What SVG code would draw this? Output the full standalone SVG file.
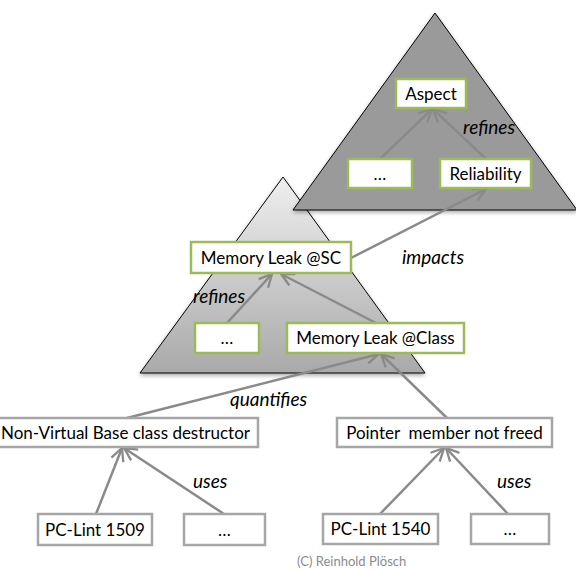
<svg xmlns="http://www.w3.org/2000/svg" width="576" height="570" viewBox="0 0 576 570">
<style>
.tri{stroke:#000;stroke-width:1}
.g rect{fill:#fff;stroke:#9bbb59;stroke-width:2.5}
.w rect{fill:#fff;stroke:#a6a6a6;stroke-width:2.5}
text{font-family:Lato,"Open Sans","Liberation Sans",sans-serif;font-size:17px;fill:#000}
.lbl{font-style:italic;font-size:19px}
.cp{font-size:13px;fill:#8c8c8c}
#connectors line{stroke:#8a8a8a;stroke-width:2.5;marker-end:url(#arr)}
</style>
<defs>
<linearGradient id="lg" x1="0" y1="0" x2="0" y2="1">
<stop offset="0" stop-color="#efefef"/>
<stop offset="1" stop-color="#a9a9a9"/>
</linearGradient>
<filter id="sh" x="-10%" y="-10%" width="120%" height="130%">
<feGaussianBlur in="SourceAlpha" stdDeviation="2"/>
<feOffset dy="2" result="b"/>
<feComponentTransfer><feFuncA type="linear" slope="0.35"/></feComponentTransfer>
<feMerge><feMergeNode/><feMergeNode in="SourceGraphic"/></feMerge>
</filter>
<marker id="arr" viewBox="0 0 14 14" refX="12.5" refY="7" markerWidth="6.5" markerHeight="6.5" orient="auto" markerUnits="strokeWidth">
<path d="M1.5,1.5 L12.5,7 L1.5,12.5" fill="none" stroke="#8a8a8a" stroke-width="2"/>
</marker>
</defs>
<g id="triangles">
<polygon class="tri" points="283,177 140,373 425,373" fill="url(#lg)" filter="url(#sh)"/>
<polygon class="tri" points="435,13 293,210 577,210" fill="#9a9a9a" filter="url(#sh)"/>
</g>
<g id="connectors">
<line x1="380" y1="159" x2="432" y2="109"/>
<line x1="486" y1="159" x2="433" y2="109"/>
<line x1="351" y1="258" x2="486" y2="189"/>
<line x1="227" y1="323" x2="272" y2="274"/>
<line x1="376" y1="323" x2="281" y2="274"/>
<line x1="127" y1="418" x2="379" y2="354"/>
<line x1="447" y1="418" x2="381" y2="354"/>
<line x1="96" y1="514" x2="122" y2="448"/>
<line x1="224" y1="514" x2="124" y2="448"/>
<line x1="380" y1="514" x2="444" y2="448"/>
<line x1="508" y1="514" x2="446" y2="448"/>
</g>
<g id="aspect" class="g"><rect x="396" y="79" width="70" height="29"/><text x="431" y="99.5" text-anchor="middle">Aspect</text></g>
<g id="dots1" class="g"><rect x="348" y="159" width="64" height="29"/><text x="380" y="179.5" text-anchor="middle">…</text></g>
<g id="reliability" class="g"><rect x="440" y="159" width="91" height="29"/><text x="485.5" y="179.5" text-anchor="middle">Reliability</text></g>
<g id="sc" class="g"><rect x="191" y="242" width="160" height="31"/><text x="271" y="263.5" text-anchor="middle">Memory Leak @SC</text></g>
<g id="dots2" class="g"><rect x="195" y="323" width="64" height="30"/><text x="227" y="344" text-anchor="middle">…</text></g>
<g id="cls" class="g"><rect x="287" y="323" width="177" height="30"/><text x="375.5" y="344" text-anchor="middle">Memory Leak @Class</text></g>
<g id="nv" class="w"><rect x="-4" y="418" width="262" height="29"/><text x="250" y="438.5" text-anchor="end">Non-Virtual Base class destructor</text></g>
<g id="pointer" class="w"><rect x="337" y="418" width="215" height="29"/><text x="444.5" y="438.5" text-anchor="middle">Pointer &#160;member not freed</text></g>
<g id="pclint1509" class="w"><rect x="38" y="514" width="114" height="31"/><text x="95" y="535.5" text-anchor="middle">PC-Lint 1509</text></g>
<g id="dots3" class="w"><rect x="184" y="514" width="81" height="31"/><text x="224.5" y="535.5" text-anchor="middle">…</text></g>
<g id="pclint1540" class="w"><rect x="323" y="514" width="115" height="30"/><text x="380.5" y="535" text-anchor="middle">PC-Lint 1540</text></g>
<g id="dots4" class="w"><rect x="471" y="514" width="78" height="30"/><text x="510" y="535" text-anchor="middle">…</text></g>
<g id="labels">
<text class="lbl" x="463" y="134">refines</text>
<text class="lbl" x="402" y="264">impacts</text>
<text class="lbl" x="193" y="303">refines</text>
<text class="lbl" x="230" y="406">quantifies</text>
<text class="lbl" x="193" y="488">uses</text>
<text class="lbl" x="497" y="488">uses</text>
<text class="cp" x="297" y="566">(C) Reinhold Plösch</text>
</g>
</svg>
